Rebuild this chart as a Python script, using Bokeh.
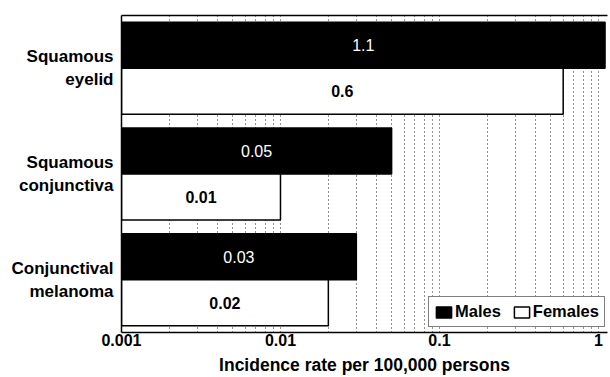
import numpy as np
from bokeh.plotting import figure
from bokeh.models import (ColumnDataSource, FactorRange, FixedTicker, NumeralTickFormatter,
                          Legend, LegendItem, LogAxis)
from bokeh.transform import dodge
from bokeh.core.properties import value
from bokeh.embed import file_html
from bokeh.resources import INLINE

# ---- data ----
categories = ["Squamous\neyelid", "Squamous\nconjunctiva", "Conjunctival\nmelanoma"]
series = ["Males", "Females"]
males = [1.1, 0.05, 0.03]
females = [0.6, 0.01, 0.02]
male_labels = ["1.1", "0.05", "0.03"]
female_labels = ["0.6", "0.01", "0.02"]
x_ticks = [0.001, 0.01, 0.1, 1]
x_min, x_max = 0.001, 1.14

FONT = "Liberation Sans"
bar_h = 0.435
off = bar_h / 2

src = ColumnDataSource(dict(
    cat=categories,
    males=males,
    females=females,
    base=[x_min] * len(categories),
    mx=[float(np.sqrt(x_min * v)) for v in males],
    fx=[float(np.sqrt(x_min * v)) for v in females],
    ml=male_labels,
    fl=female_labels,
))

p = figure(width=610, height=377, x_axis_type="log", x_range=(x_min, x_max),
           y_range=FactorRange(factors=categories[::-1], range_padding=0),
           output_backend="svg", toolbar_location=None,
           min_border_left=121, min_border_right=3, min_border_top=15, min_border_bottom=40)
p.outline_line_color = None
p.background_fill_color = "white"

minor = [m * 10.0 ** e for e in (-3, -2, -1, 0) for m in range(2, 10)]
p.xaxis.ticker = FixedTicker(ticks=x_ticks, minor_ticks=minor)
p.xaxis.formatter = NumeralTickFormatter(format="0.[000]")
p.xaxis.major_tick_line_color = None
p.xaxis.minor_tick_line_color = None
p.xaxis.axis_line_color = "black"
p.xaxis.axis_line_width = 1.5
p.xaxis.major_label_text_font = FONT
p.xaxis.major_label_text_font_style = "bold"
p.xaxis.major_label_text_font_size = "16px"
p.xaxis.major_label_text_color = "black"
p.xaxis.major_label_standoff = -5
p.xaxis.axis_label = "Incidence rate per 100,000 persons"
p.xaxis.axis_label_text_font = FONT
p.xaxis.axis_label_text_font_style = "bold"
p.xaxis.axis_label_text_font_size = "17.5px"
p.xaxis.axis_label_text_color = "black"
p.xaxis.axis_label_standoff = 6

p.yaxis.major_tick_line_color = None
p.yaxis.minor_tick_line_color = None
p.yaxis.axis_line_color = "black"
p.yaxis.axis_line_width = 1.5
p.yaxis.major_label_text_font = FONT
p.yaxis.major_label_text_font_style = "bold"
p.yaxis.major_label_text_font_size = "17px"
p.yaxis.major_label_text_color = "black"
p.yaxis.major_label_standoff = 2

top = LogAxis(ticker=FixedTicker(ticks=[]), major_tick_line_color=None,
              minor_tick_line_color=None, major_label_text_font_size="0px",
              axis_line_color="black", axis_line_width=1.5)
p.add_layout(top, "above")

p.xgrid.grid_line_color = "black"
p.xgrid.grid_line_dash = "1 3"
p.xgrid.grid_line_alpha = 0.85
p.xgrid.minor_grid_line_color = "black"
p.xgrid.minor_grid_line_dash = "1 3"
p.xgrid.minor_grid_line_alpha = 0.85
p.ygrid.grid_line_color = None

rm = p.hbar(y=dodge("cat", off, range=p.y_range), left="base", right="males", height=bar_h,
            source=src, fill_color="black", line_color="black", line_width=1.5)
rf = p.hbar(y=dodge("cat", -off, range=p.y_range), left="base", right="females", height=bar_h,
            source=src, fill_color="white", line_color="black", line_width=1.5)

p.text(x="mx", y=dodge("cat", off, range=p.y_range), text="ml", source=src,
       text_color="white", text_font=value(FONT), text_font_size="16px",
       text_align="center", text_baseline="middle")
p.text(x="fx", y=dodge("cat", -off, range=p.y_range), text="fl", source=src,
       text_color="black", text_font=value(FONT), text_font_style="bold",
       text_font_size="16px", text_align="center", text_baseline="middle")

legend = Legend(items=[LegendItem(label=series[0], renderers=[rm]),
                       LegendItem(label=series[1], renderers=[rf])],
                location=(307, 5), orientation="horizontal",
                border_line_color="black", border_line_width=1.5,
                label_text_font=FONT, label_text_font_style="bold",
                label_text_font_size="16.5px", label_text_color="black",
                glyph_width=19, glyph_height=14, padding=5, spacing=11,
                label_standoff=2, margin=0, label_height=14)
p.add_layout(legend)

open("out.html", "w").write(file_html(p, INLINE))
